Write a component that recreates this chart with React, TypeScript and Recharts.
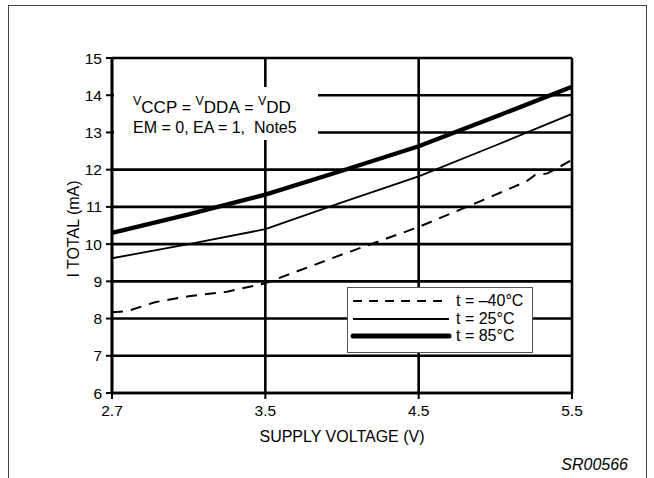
import { CartesianGrid, Legend, Line, LineChart, XAxis, YAxis } from "recharts";

const VOLT_LABELS = ["2.7", "3.5", "4.5", "5.5"];
const VOLT_POS = [0, 1, 2, 3];
const MA_TICKS = [6, 7, 8, 9, 10, 11, 12, 13, 14, 15];

// t = -40°C (dashed, a bit wobbly in the original)
const COLD_POS = [0, 0.1, 0.28, 0.5, 0.75, 1, 1.5, 2, 2.4, 2.7, 2.76, 2.84, 3];
const COLD_MA = [8.17, 8.2, 8.44, 8.6, 8.72, 8.95, 9.72, 10.46, 11.15, 11.68, 11.86, 11.9, 12.26];

// t = 25°C
const ROOM_POS = [0, 0.5, 1, 1.5, 2, 2.5, 3];
const ROOM_MA = [9.62, 10.0, 10.4, 11.12, 11.82, 12.65, 13.5];

// t = 85°C
const HOT_POS = [0, 0.5, 1, 1.5, 2, 2.5, 3];
const HOT_MA = [10.3, 10.8, 11.33, 11.97, 12.63, 13.42, 14.23];

const SERIES = [
  { key: "cold", name: "t = \u201340\u00b0C", pos: COLD_POS, ma: COLD_MA, width: 2, dash: "11 8", legendDash: "9 7" },
  { key: "room", name: "t = 25\u00b0C", pos: ROOM_POS, ma: ROOM_MA, width: 1.8, dash: undefined, legendDash: undefined },
  { key: "hot", name: "t = 85\u00b0C", pos: HOT_POS, ma: HOT_MA, width: 4.3, dash: undefined, legendDash: undefined },
];

const FONT = "'Liberation Sans', Arial, Helvetica, sans-serif";

function LegendBox() {
  return (
    <div
      style={{
        width: 186,
        height: 66,
        border: "1px solid #555",
        background: "#fff",
        boxSizing: "border-box",
        position: "relative",
        fontFamily: FONT,
      }}
    >
      {SERIES.map((s, i) => (
        <div
          key={s.key}
          style={{
            position: "absolute",
            left: 0,
            top: 4 + i * 17.5,
            height: 18,
            display: "flex",
            alignItems: "center",
            whiteSpace: "nowrap",
          }}
        >
          <svg width={108} height={18}>
            <line
              x1={5}
              x2={s.legendDash ? 95 : 101}
              y1={9}
              y2={9}
              stroke="#000"
              strokeWidth={s.key === "hot" ? 5 : s.width}
              strokeDasharray={s.legendDash}
              strokeLinecap={s.key === "hot" ? "round" : "butt"}
            />
          </svg>
          <span style={{ fontSize: 16, color: "#000" }}>{s.name}</span>
        </div>
      ))}
    </div>
  );
}

function YTitle() {
  return (
    <text
      x={73}
      y={229}
      transform="rotate(-90, 73, 229)"
      textAnchor="middle"
      dominantBaseline="central"
      fontSize={16}
      fill="#000"
    >
      I TOTAL (mA)
    </text>
  );
}

export default function App() {
  return (
    <div
      style={{
        position: "absolute",
        left: 0,
        top: 0,
        width: 654,
        height: 478,
        background: "#fff",
        fontFamily: FONT,
        overflow: "hidden",
      }}
    >
      {/* page frame, open at the bottom */}
      <div
        style={{
          position: "absolute",
          left: 8,
          top: 5,
          width: 637,
          height: 490,
          border: "1.5px solid #444",
        }}
      />
      <LineChart
        width={654}
        height={478}
        margin={{ top: 58, right: 82, bottom: 55, left: 62 }}
        style={{ position: "absolute", left: 0, top: 0 }}
      >
        <CartesianGrid
          stroke="#000"
          strokeWidth={2.6}
          horizontalValues={MA_TICKS}
          verticalValues={VOLT_POS}
        />
        <XAxis
          type="number"
          dataKey="pos"
          domain={[0, 3]}
          ticks={VOLT_POS}
          tickFormatter={(v: number) => VOLT_LABELS[v]}
          height={30}
          tickSize={6}
          tickMargin={6}
          stroke="#000"
          axisLine={{ stroke: "#000", strokeWidth: 2.6 }}
          tickLine={{ stroke: "#000", strokeWidth: 2 }}
          tick={{ fill: "#000", fontSize: 15.5 }}
          label={{ value: "SUPPLY VOLTAGE (V)", position: "bottom", offset: 8, fill: "#000", fontSize: 16 }}
        />
        <YAxis
          type="number"
          domain={[6, 15]}
          ticks={MA_TICKS}
          interval={0}
          width={50}
          tickSize={6}
          tickMargin={4}
          axisLine={{ stroke: "#000", strokeWidth: 2.6 }}
          tickLine={{ stroke: "#000", strokeWidth: 2 }}
          tick={{ fill: "#000", fontSize: 15.5 }}
          label={<YTitle />}
        />
        <Legend
          layout="horizontal"
          verticalAlign="middle"
          content={() => <LegendBox />}
          wrapperStyle={{ left: 347, top: 287, width: 186, height: 66 }}
        />
        {SERIES.map((s) => (
          <Line
            key={s.key}
            name={s.name}
            data={s.pos.map((p, i) => ({ pos: p, ma: s.ma[i] }))}
            dataKey="ma"
            type="linear"
            stroke="#000"
            strokeWidth={s.width}
            strokeDasharray={s.dash}
            dot={false}
            activeDot={false}
            isAnimationActive={false}
          />
        ))}
      </LineChart>
      {/* condition note, on a white patch that hides the grid */}
      <svg
        width={204}
        height={53}
        style={{ position: "absolute", left: 114, top: 87, background: "#fff" }}
      >
        <text x={19} y={26} fontSize={17} fill="#000">
          <tspan fontSize={12.5} dy={-8}>V</tspan>
          <tspan dy={8}>CCP</tspan>
          <tspan fontSize={16}> = </tspan>
          <tspan fontSize={12.5} dy={-8}>V</tspan>
          <tspan dy={8}>DDA</tspan>
          <tspan fontSize={16}> = </tspan>
          <tspan fontSize={12.5} dy={-8}>V</tspan>
          <tspan dy={8}>DD</tspan>
        </text>
        <text x={19} y={46} fontSize={16} fill="#000" style={{ whiteSpace: "pre" }}>
          EM = 0, EA = 1,  Note5
        </text>
      </svg>
      <div
        style={{
          position: "absolute",
          right: 26,
          top: 456,
          fontSize: 16,
          fontStyle: "italic",
          color: "#000",
          lineHeight: "18px",
        }}
      >
        SR00566
      </div>
    </div>
  );
}
